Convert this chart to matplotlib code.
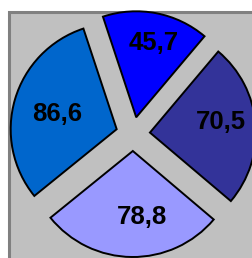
import matplotlib
matplotlib.use("Agg")
import matplotlib.pyplot as plt
from matplotlib.patches import Rectangle

# data
values = [45.7, 70.5, 78.8, 86.6]
colors = ['#0000ff', '#333399', '#9999ff', '#0066cc']
total = sum(values)
# small label nudges (x, y) in pixels, as the original places them
label_nudge = [(4, 4), (-1, 5), (10, 6), (10, -5)]

W, H = 252, 258
fig = plt.figure(figsize=(W / 100, H / 100), dpi=100)
ax = fig.add_axes([0, 0, 1, 1])

# grey plot area, cropped at right and bottom
ax.add_patch(Rectangle((8.5, -20), 300, H - 12 + 20, facecolor='#c0c0c0',
                       edgecolor='#808080', linewidth=2.2, zorder=0))


def fmt(p):
    return f'{p * total / 100:.1f}'.replace('.', ',')


wedges, texts, autotexts = ax.pie(
    values, colors=colors, startangle=108.3, counterclock=False,
    center=(133, H - 134), radius=106, explode=[17] * len(values),
    autopct=fmt, pctdistance=0.68, frame=True,
    wedgeprops=dict(edgecolor='black', linewidth=1.4),
    textprops=dict(fontsize=18.5, fontweight='bold', family='Liberation Sans',
                   color='black'))
for w in wedges:
    w.set_zorder(2)
for t, (dx, dy) in zip(autotexts, label_nudge):
    x, y = t.get_position()
    t.set_position((x + dx, y + dy))

ax.set_xlim(0, W)
ax.set_ylim(0, H)
ax.set_aspect('auto')
ax.axis('off')

fig.savefig('out.png', dpi=100)
